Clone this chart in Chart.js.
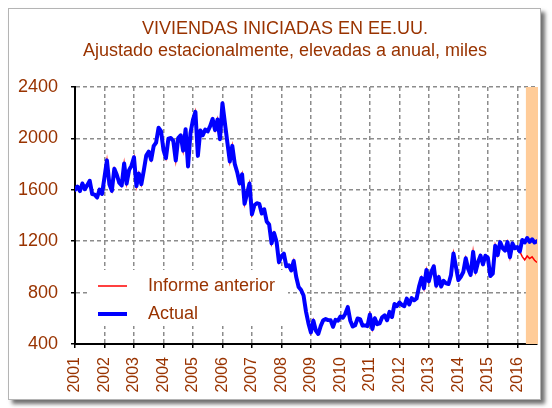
<!DOCTYPE html>
<html>
<head>
<meta charset="utf-8">
<script src="https://cdn.jsdelivr.net/npm/chart.js@4.4.1/dist/chart.umd.min.js"></script>
<style>
  html, body { margin: 0; padding: 0; background: #fff; }
  .frame {
    position: absolute; left: 8px; top: 8px; width: 531px; height: 390px;
    border: 1px solid #b4b4b4; box-shadow: 4px 4px 4px #707070; background: #fff;
  }
  .wrap { position: absolute; left: 0; top: 0; width: 552px; height: 408px; }
</style>
</head>
<body>
<div class="frame"></div>
<div class="wrap"><canvas id="chart"></canvas></div>
<script>
// ---- data (monthly, starting Jan 2001) ----
const TITLE = ['VIVIENDAS INICIADAS EN EE.UU.', 'Ajustado estacionalmente, elevadas a anual, miles'];
const YEARS = [2001, 2002, 2003, 2004, 2005, 2006, 2007, 2008, 2009, 2010, 2011, 2012, 2013, 2014, 2015, 2016];
const Y_TICKS = [400, 800, 1200, 1600, 2000, 2400];
const SERIES_LABELS = ['Informe anterior', 'Actual'];

const ACTUAL = [
  1600, 1625, 1590, 1649, 1605, 1636, 1670, 1567, 1562, 1540, 1602, 1568, // 2001
  1698, 1829, 1642, 1592, 1764, 1717, 1655, 1633, 1804, 1648, 1753, 1788, // 2002
  1853, 1629, 1726, 1643, 1751, 1867, 1897, 1833, 1939, 1967, 2083, 2057, // 2003
  1911, 1846, 1998, 2003, 1981, 1828, 2002, 2024, 1905, 2072, 1782, 2042, // 2004
  2144, 2207, 1864, 2061, 2025, 2068, 2054, 2095, 2151, 2065, 2147, 1994, // 2005
  2273, 2119, 1969, 1821, 1942, 1802, 1737, 1650, 1720, 1491, 1570, 1649, // 2006
  1409, 1480, 1495, 1490, 1415, 1448, 1354, 1330, 1183, 1264, 1197, 1037, // 2007
  1084, 1103, 1005, 1013,  973, 1046,  923,  844,  820,  777,  652,  560, // 2008
   490,  582,  505,  478,  540,  585,  594,  586,  585,  534,  588,  581, // 2009
   614,  604,  636,  687,  583,  536,  546,  599,  594,  543,  545,  539, // 2010
   630,  517,  600,  554,  561,  608,  623,  585,  650,  610,  711,  694, // 2011
   723,  704,  695,  753,  708,  757,  740,  754,  847,  915,  833,  976, // 2012
   888,  962, 1005,  853,  922,  847,  891,  872,  867,  936, 1105, 1003, // 2013
   897,  923,  960, 1067,  984,  938, 1117,  961, 1037, 1088, 1020, 1087, // 2014
  1071,  929,  948, 1165, 1092, 1193, 1147, 1127, 1193, 1075, 1183, 1145, // 2015
  1155, 1120, 1210, 1190, 1225, 1195, 1215, 1190, 1200                    // 2016
];
// previous report: same history, differs from Mar 2016 on
const PREVIOUS_TAIL = [1080, 1055, 1085, 1065, 1078, 1052, 1035];
const PREVIOUS = ACTUAL.slice(0, ACTUAL.length - PREVIOUS_TAIL.length).concat(PREVIOUS_TAIL);

const SHADED_FROM = 2016.29;
const FIRST_YEAR = YEARS[0];

const BROWN = '#993300';
const FONT = "'Liberation Sans', Arial, sans-serif";

const toPoints = arr => arr.map((v, i) => ({ x: FIRST_YEAR + i / 12, y: v }));
const lastX = FIRST_YEAR + (ACTUAL.length - 1) / 12;

// two-line title, centred over the frame
const frameTitle = {
  id: 'frameTitle',
  afterDraw(chart) {
    const { ctx } = chart;
    ctx.save();
    ctx.font = '18px ' + FONT;
    ctx.fillStyle = BROWN;
    ctx.textAlign = 'center';
    ctx.textBaseline = 'middle';
    TITLE.forEach((line, i) => ctx.fillText(line, 285, 29 + i * 22));
    ctx.restore();
  }
};

// orange band at the end of the period
const shadeBand = {
  id: 'shadeBand',
  beforeDatasetsDraw(chart) {
    const { ctx, chartArea, scales: { x } } = chart;
    const x0 = x.getPixelForValue(SHADED_FROM);
    ctx.save();
    ctx.fillStyle = '#ffcc99';
    ctx.fillRect(x0, chartArea.top, chartArea.right + 1 - x0, chartArea.bottom - chartArea.top);
    ctx.restore();
  }
};

// legend inside the plot, bottom left, on a white box
const innerLegend = {
  id: 'innerLegend',
  beforeDatasetsDraw(chart) {
    const { ctx, chartArea } = chart;
    const left = chartArea.left + 15;
    const top = chartArea.bottom - 74;
    ctx.save();
    ctx.fillStyle = '#fff';
    ctx.fillRect(left, top, 198, 56);
    ctx.font = '18px ' + FONT;
    ctx.textBaseline = 'middle';
    chart.data.datasets.forEach((ds, i) => {
      const y = top + 16 + i * 28;
      ctx.strokeStyle = ds.borderColor;
      ctx.lineWidth = ds.borderWidth;
      ctx.beginPath();
      ctx.moveTo(left + 8, y);
      ctx.lineTo(left + 37, y);
      ctx.stroke();
      ctx.fillStyle = BROWN;
      ctx.fillText(ds.label, left + 58, y);
    });
    ctx.restore();
  }
};

new Chart(document.getElementById('chart'), {
  type: 'line',
  data: {
    datasets: [
      {
        label: SERIES_LABELS[0],
        data: toPoints(PREVIOUS),
        borderColor: '#ff0000',
        borderWidth: 1.5,
        pointRadius: 0,
        tension: 0,
        order: 1,
      },
      {
        label: SERIES_LABELS[1],
        data: toPoints(ACTUAL),
        borderColor: '#0000ff',
        borderWidth: 4,
        borderJoinStyle: 'round',
        borderCapStyle: 'round',
        pointRadius: 0,
        tension: 0,
        order: 0,
      }
    ]
  },
  options: {
    responsive: true,
    maintainAspectRatio: false,
    animation: false,
    layout: { padding: { left: 0, right: 15, top: 87, bottom: 0 } },
    plugins: {
      legend: { display: false },
      tooltip: { enabled: false },
      title: { display: false },
    },
    scales: {
      x: {
        type: 'linear',
        min: FIRST_YEAR,
        max: lastX,
        afterBuildTicks: scale => { scale.ticks = YEARS.map(v => ({ value: v })); },
        afterFit: scale => { scale.height = 64; },
        grid: { color: '#8c8c8c', lineWidth: 1.5, tickColor: '#000', tickLength: 4, tickWidth: 1.5 },
        border: { color: '#000', width: 2, dash: [4, 3] },
        ticks: {
          autoSkip: false,
          minRotation: 90,
          maxRotation: 90,
          padding: 9,
          color: BROWN,
          font: { family: FONT, size: 16 },
          callback: v => String(v),
        },
      },
      y: {
        min: Y_TICKS[0],
        max: Y_TICKS[Y_TICKS.length - 1],
        afterBuildTicks: scale => { scale.ticks = Y_TICKS.map(v => ({ value: v })); },
        afterFit: scale => { scale.width = 75; },
        grid: { color: '#8c8c8c', lineWidth: 1.5, tickColor: '#000', tickLength: 4, tickWidth: 1.5 },
        border: { color: '#000', width: 2, dash: [4, 3] },
        ticks: {
          padding: 13,
          color: BROWN,
          font: { family: FONT, size: 18 },
          callback: v => String(v),
        },
      },
    },
  },
  plugins: [frameTitle, shadeBand, innerLegend],
});
</script>
</body>
</html>
